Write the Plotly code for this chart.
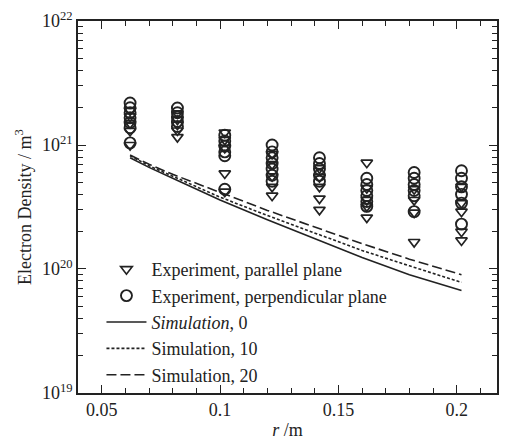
import plotly.graph_objects as go

# ---- data ----
r_clusters = [0.062, 0.082, 0.102, 0.122, 0.142, 0.162, 0.182, 0.202]

parallel = [
    [1.9e21, 1.7e21, 1.5e21, 1.3e21, 1.0e21],
    [1.8e21, 1.6e21, 1.46e21, 1.31e21, 1.16e21],
    [1.26e21, 1.1e21, 9.5e20, 5.9e20, 4.2e20],
    [8.5e20, 7.0e20, 5.6e20, 4.6e20, 3.9e20],
    [6.5e20, 5.5e20, 4.6e20, 3.7e20, 3.0e20],
    [7.2e20, 4.5e20, 3.6e20, 3.2e20, 2.6e20],
    [4.4e20, 3.6e20, 2.85e20, 1.65e20],
    [4.6e20, 3.4e20, 2.9e20, 2.0e20, 1.7e20],
]

perpendicular = [
    [2.18e21, 2.0e21, 1.82e21, 1.66e21, 1.52e21, 1.38e21, 1.04e21],
    [1.99e21, 1.82e21, 1.69e21, 1.55e21, 1.41e21],
    [1.2e21, 1.08e21, 9.8e20, 8.8e20, 8.2e20, 4.4e20],
    [1.0e21, 8.8e20, 7.9e20, 7.1e20, 6.4e20, 5.7e20, 5.1e20],
    [7.9e20, 7.1e20, 6.4e20, 5.7e20, 5.1e20],
    [5.4e20, 4.8e20, 4.3e20, 3.9e20, 3.5e20, 3.2e20],
    [6.0e20, 5.4e20, 4.8e20, 4.3e20, 3.9e20, 2.9e20],
    [6.2e20, 5.4e20, 4.6e20, 4.0e20, 3.4e20, 2.3e20],
]

r_sim = [0.062, 0.07, 0.08, 0.09, 0.1, 0.12, 0.14, 0.16, 0.18, 0.202]
sim_0 = [7.9e20, 6.6e20, 5.4e20, 4.4e20, 3.6e20, 2.5e20, 1.75e20, 1.24e20, 8.97e19, 6.7e19]
sim_10 = [8.2e20, 6.8e20, 5.6e20, 4.6e20, 3.8e20, 2.7e20, 1.95e20, 1.41e20, 1.06e20, 7.8e19]
sim_20 = [8.3e20, 7.0e20, 5.8e20, 4.9e20, 4.1e20, 2.97e20, 2.18e20, 1.6e20, 1.2e20, 9.0e19]

x_ticks = [0.05, 0.1, 0.15, 0.2]
x_ticktext = ["0.05", "0.1", "0.15", "0.2"]
y_ticks = [1e19, 1e20, 1e21, 1e22]
y_ticktext = ["10<sup>19</sup>", "10<sup>20</sup>", "10<sup>21</sup>", "10<sup>22</sup>"]
y_minor_ticks = [m * 10.0 ** e for e in (19, 20, 21) for m in range(2, 10)]

ink = "#222222"
font_family = "Liberation Serif, Times New Roman, serif"


def flatten(clusters):
    xs, ys = [], []
    for x, vals in zip(r_clusters, clusters):
        for v in vals:
            xs.append(x)
            ys.append(v)
    return xs, ys


fig = go.Figure()

px_, py_ = flatten(parallel)
cx_, cy_ = flatten(perpendicular)

fig.add_trace(go.Scatter(
    x=px_, y=py_, mode="markers", name="Experiment, parallel plane",
    legendgroup="a",
    marker=dict(symbol="triangle-down-open", size=10, color=ink, line=dict(width=1.7, color=ink)),
))
fig.add_trace(go.Scatter(
    x=cx_, y=cy_, mode="markers", name="Experiment, perpendicular plane",
    legendgroup="b",
    marker=dict(symbol="circle-open", size=11, color=ink, line=dict(width=1.9, color=ink)),
))
fig.add_trace(go.Scatter(
    x=r_sim, y=sim_0, mode="lines", name="<i>Simulation</i>, 0", legendgroup="c",
    line=dict(color=ink, width=1.6, dash="solid"),
))
fig.add_trace(go.Scatter(
    x=r_sim, y=sim_10, mode="lines", name="Simulation, 10", legendgroup="d",
    line=dict(color=ink, width=1.6, dash="3px,2px"),
))
fig.add_trace(go.Scatter(
    x=r_sim, y=sim_20, mode="lines", name="Simulation, 20", legendgroup="e",
    line=dict(color=ink, width=1.6, dash="10px,4px"),
))

axis_common = dict(
    showline=True, linecolor=ink, linewidth=1.5, mirror="allticks",
    ticks="inside", ticklen=8, tickwidth=1.3, tickcolor=ink,
    showgrid=False, zeroline=False, ticklabeloverflow="allow",
    tickfont=dict(family=font_family, size=18, color=ink),
)

fig.update_layout(
    width=508, height=448,
    margin=dict(l=78, r=9, t=12, b=55),
    paper_bgcolor="white", plot_bgcolor="white",
    font=dict(family=font_family, size=18, color=ink),
    xaxis=dict(
        range=[0.04, 0.217], tickmode="array", tickvals=x_ticks, ticktext=x_ticktext,
        minor=dict(ticks="inside", ticklen=5, tickwidth=1.1, tickcolor=ink, dtick=0.01, tick0=0.05, showgrid=False),
        title=dict(text="<i>r</i> /m", font=dict(family=font_family, size=18, color=ink), standoff=4),
        **axis_common,
    ),
    yaxis=dict(
        type="log", range=[18.9995, 22.0005], tickmode="array", tickvals=y_ticks, ticktext=y_ticktext,
        minor=dict(ticks="inside", ticklen=5, tickwidth=1.1, tickcolor=ink,
                   tickmode="array", tickvals=y_minor_ticks, showgrid=False),
        title=dict(text="Electron Density / m<sup>3</sup>", font=dict(family=font_family, size=18, color=ink), standoff=6),
        **axis_common,
    ),
    legend=dict(
        x=0.056, y=0.0, xanchor="left", yanchor="bottom",
        bgcolor="rgba(0,0,0,0)", borderwidth=0,
        font=dict(family=font_family, size=18, color=ink),
        tracegroupgap=0, itemwidth=40,
    ),
    showlegend=True,
)

fig.write_html("out.html", post_script="document.body.style.margin='0';",
               config={"displayModeBar": False})
